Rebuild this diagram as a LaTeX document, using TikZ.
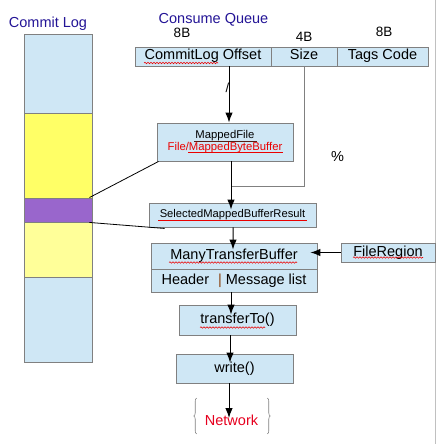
\documentclass[tikz,border=0pt]{standalone}
\usepackage{fontspec}
\setmainfont{Liberation Sans}
\usetikzlibrary{arrows.meta,calc,decorations.pathmorphing,decorations.pathreplacing}
\definecolor{boxfill}{RGB}{207,231,245}
\definecolor{boxline}{RGB}{128,128,128}
\definecolor{titleblue}{RGB}{35,20,150}
\definecolor{segyellow}{RGB}{255,255,102}
\definecolor{segpurple}{RGB}{153,102,204}
\definecolor{seglight}{RGB}{255,255,153}
\definecolor{netred}{RGB}{230,0,30}
\definecolor{barbrown}{RGB}{139,69,19}
\definecolor{edgegrey}{RGB}{192,192,192}
\definecolor{ulred}{RGB}{235,0,0}
\definecolor{uldark}{RGB}{90,30,20}
\begin{document}
\begin{tikzpicture}[x=1bp,y=-1bp,
  boxbase/.style={draw=boxline, fill=boxfill, line width=0.9bp, inner sep=0pt},
  box/.style={boxbase, font=\fontsize{14.5bp}{16bp}\selectfont, text height=10bp, text depth=3bp},
  seg/.style={draw=boxline, line width=0.9bp, minimum width=68bp, inner sep=0pt},
  arr/.style={-{Latex[length=10bp,width=7.5bp]}, line width=1bp, black},
  sizeline/.style={boxline, line width=0.9bp},
  thinline/.style={black, line width=0.8bp},
  title/.style={titleblue, font=\fontsize{14.5bp}{16bp}\selectfont, anchor=base, inner sep=0pt},
  sizelabel/.style={font=\fontsize{13.5bp}{15bp}\selectfont, anchor=base, inner sep=0pt},
  wavy/.style={ulred, line width=0.6bp, decorate, decoration={snake, amplitude=0.7bp, segment length=3bp}},
  straightul/.style={ulred, line width=0.7bp},
  bracestyle/.style={boxline, line width=0.6bp, decorate, decoration={brace, amplitude=3bp}}
]
\useasboundingbox (0,0) rectangle (441,444);

% right grey edge
\draw[edgegrey, line width=1bp] (435,0) -- (435,444);

% commit log column
\node[seg, fill=boxfill, minimum height=79bp] (cla) at (58,73.5) {};
\node[seg, fill=segyellow, minimum height=85bp] (clb) at (58,155.5) {};
\node[seg, fill=segpurple, minimum height=24bp] (clc) at (58,210) {};
\node[seg, fill=seglight, minimum height=55bp] (cld) at (58,249.5) {};
\node[seg, fill=boxfill, minimum height=85bp] (cle) at (58,319.5) {};

% titles
\node[title] (tcl) at (48,27.5) {Commit Log};
\node[title] (tcq) at (213.5,24) {Consume Queue};
\node[sizelabel] (s1) at (182,38) {8B};
\node[sizelabel] (s2) at (304,42) {4B};
\node[sizelabel] (s3) at (384,37) {8B};

% consume queue table
\node[box, minimum width=136bp, minimum height=19bp] (cq1) at (203,56.5) {CommitLog Offset};
\node[box, minimum width=66bp, minimum height=19bp] (cq2) at (304,56.5) {Size};
\node[box, minimum width=91bp, minimum height=19bp] (cq3) at (382.5,56.5) {Tags Code};

% boxes
\node[boxbase, minimum width=136bp, minimum height=38bp, align=center,
      font=\fontsize{11.3bp}{12bp}\selectfont] (mf) at (225,142)
      {MappedFile\\{\color{ulred}File/MappedByteBuffer}};
\node[boxbase, minimum width=167bp, minimum height=24bp,
      font=\fontsize{11.2bp}{13bp}\selectfont, text height=8bp, text depth=2.5bp] (smb) at (232.5,215)
      {SelectedMappedBufferResult};
\node[box, minimum width=166bp, minimum height=26bp] (mtb) at (234,256) {ManyTransferBuffer};
\node[box, minimum width=166bp, minimum height=23bp] (mtbb) at (234,280.5)
      {Header\hspace{9bp}{\color{barbrown}|}\hspace{4bp}Message list};
\node[box, minimum width=94bp, minimum height=19bp] (fr) at (388,252.5) {FileRegion};
\node[box, minimum width=117bp, minimum height=30bp] (tt) at (237.5,320) {transferTo()};
\node[box, minimum width=117bp, minimum height=29bp] (wr) at (234.5,368.5) {write()};
\node[netred, font=\fontsize{14.5bp}{16bp}\selectfont, text height=10bp, text depth=3bp, inner sep=0pt]
      (net) at (231.5,421.5) {Network};

% stray glyphs
\node[font=\fontsize{13bp}{15bp}\selectfont, inner sep=0pt] (slash) at (227.5,88) {/};
\node[font=\fontsize{14.5bp}{16bp}\selectfont, inner sep=0pt] (pct) at (337.5,157) {\%};

% braces around Network
\draw[bracestyle] ($(net.west)+(-8,12.5)$) -- ($(net.west)+(-8,-23.5)$);
\draw[bracestyle] ($(net.east)+(9,-23.5)$) -- ($(net.east)+(9,12.5)$);

% underlines
\draw[wavy] (144,63) -- (218,63);
\draw[uldark, line width=0.7bp] (194,141) -- (257,141);
\draw[straightul] (188,152.5) -- (283,152.5);
\draw[straightul] (158,220.5) -- (307,220.5);
\draw[wavy] (169,262.5) -- (297,262.5);
\draw[wavy] (353,257.5) -- (423,257.5);
\draw[wavy] (200,327.5) -- (265,327.5);

% connectors
\coordinate (j1) at (231,186);
\draw[sizeline] (cq2.south) |- (j1);
\draw[arr] ($(cq1.south)+(26,0)$) -- ($(mf.north)+(4,0)$);
\draw[arr] ($(mf.south)+(6,0)$) -- ($(smb.north)+(-1.5,7)$);
\draw[arr] ($(smb.south)+(0.5,0)$) -- ($(mtb.north)+(-1,7)$);
\draw[arr] (fr.west) -- ($(fr.west -| mtb.east)+(-7,0)$);
\draw[arr] ($(mtbb.south)+(-3,0)$) -- ($(tt.north)+(-6.5,10)$);
\draw[arr] ($(tt.south)+(-7.5,0)$) -- ($(wr.north)+(-4.5,9)$);
\draw[arr] ($(wr.south)+(-5.5,0)$) -- ($(net.center)+(-2.5,-3.5)$);

% commit log to buffers
\draw[thinline] ($(clc.north east)+(-3,0)$) -- ($(mf.south west)+(2,0)$);
\draw[thinline] ($(clc.south east)+(-3,0)$) -- ($(smb.south west)+(16,1)$);
\end{tikzpicture}
\end{document}
